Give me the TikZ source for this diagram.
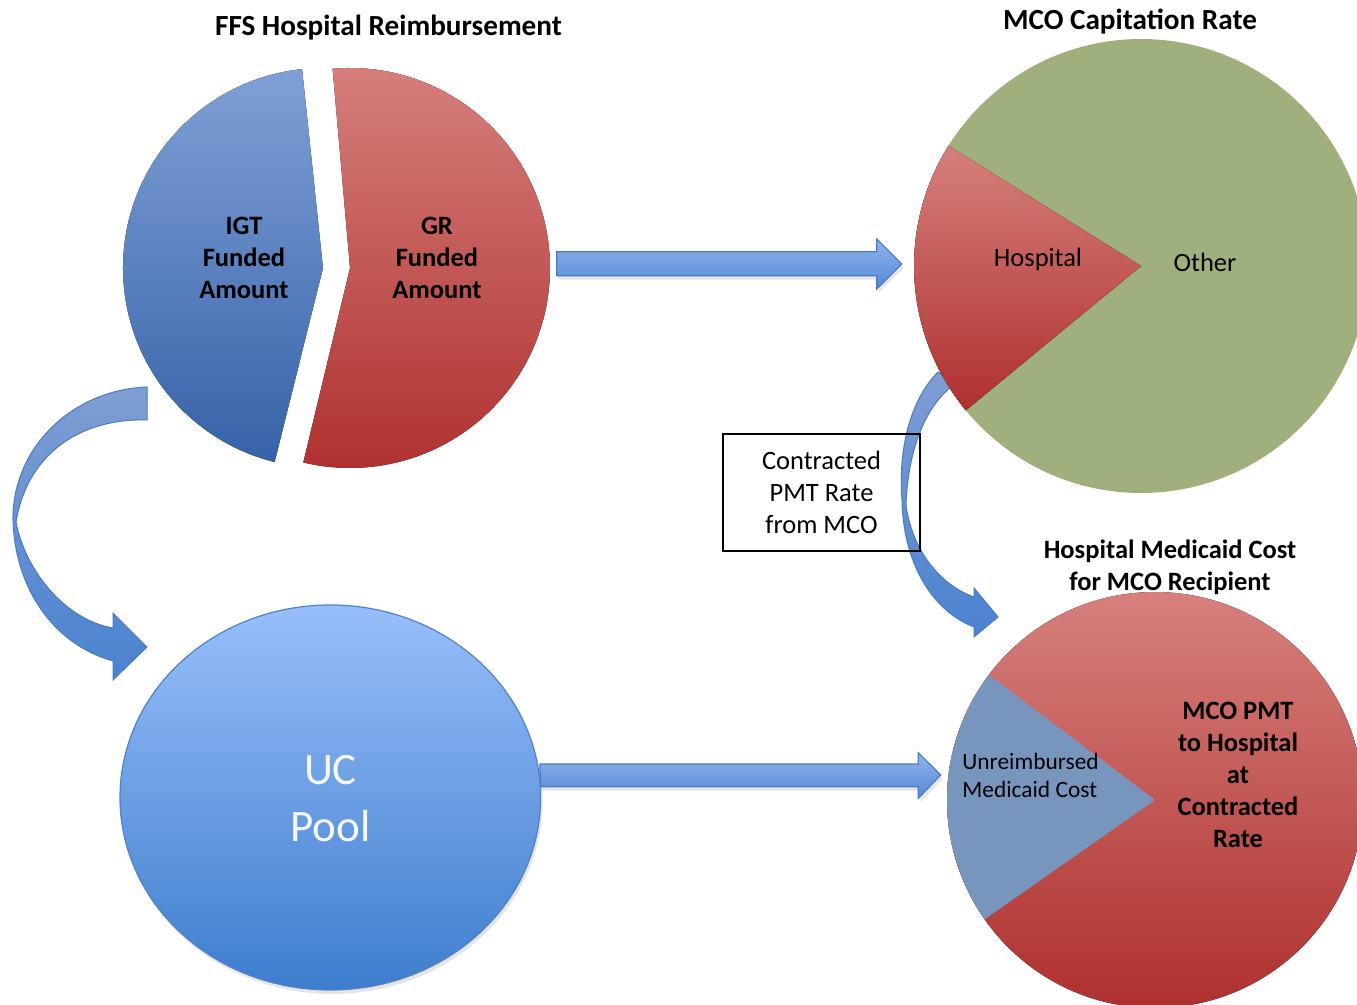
\documentclass[tikz,border=0pt]{standalone}
\usepackage{fontspec}
\setmainfont{Carlito}
\usetikzlibrary{calc}
\definecolor{bluetop}{HTML}{7FA0D6}
\definecolor{bluebot}{HTML}{3662A8}
\definecolor{redtop}{HTML}{D6807D}
\definecolor{redbot}{HTML}{AE302E}
\definecolor{greenpie}{HTML}{A0B07D}
\definecolor{steel}{HTML}{7896BD}
\definecolor{uctop}{HTML}{97BFFA}
\definecolor{ucbot}{HTML}{3E7DCD}
\definecolor{uclinec}{HTML}{4F82C6}
\definecolor{arrtop}{HTML}{8FB4EC}
\definecolor{arrbot}{HTML}{5589D6}
\definecolor{arrline}{HTML}{4A7BC4}
\definecolor{cvtop}{HTML}{7F9ED2}
\definecolor{cvmid}{HTML}{6C9FE6}
\definecolor{cvbot}{HTML}{4A82D0}
\definecolor{uctext}{HTML}{F4F7FC}
\begin{document}
\begin{tikzpicture}[x=0.5pt,y=-0.5pt,
  lbl/.style={font=\fontsize{13.25}{16}\selectfont, align=center, anchor=base, inner sep=0pt},
  lblb/.style={font=\fontsize{13.25}{16}\selectfont\bfseries, align=center, anchor=base, inner sep=0pt},
  ttl/.style={font=\fontsize{14.6}{17}\selectfont\bfseries, anchor=base, inner sep=0pt},
  blockarrow/.style={draw=arrline, line width=0.6pt, top color=arrtop, bottom color=arrbot},
  curvearrow/.style={draw=arrline, line width=0.5pt, top color=cvtop, middle color=cvmid, bottom color=cvbot},
  shadowc/.style={fill=black, opacity=0.10},
]
\useasboundingbox (0,0) rectangle (1357,1005);
\clip (0,0) rectangle (1357,1005);

% centres
\coordinate (ffs) at (336,268);
\coordinate (mco) at (1141,266);
\coordinate (hmc) at (1155,800);
\coordinate (ucc) at (330.3,797.5);
\coordinate (ucs) at (332.3,801.5);

% ---------- left curved arrow ----------
\path[curvearrow] (147,387) -- (147,420)
  .. controls (85,418) and (28,450) .. (16,522)
  .. controls (25,570) and (65,620) .. (113,628)
  -- (113,613) -- (147,647) -- (113,680) -- (113,661)
  .. controls (55,645) and (15,590) .. (13,520)
  .. controls (12,450) and (70,390) .. (147,387) -- cycle;

% ---------- right curved arrow ----------
\path[curvearrow] (938,372)
  .. controls (910,400) and (898,450) .. (902,500)
  .. controls (903,560) and (930,610) .. (974,627)
  -- (974,637) -- (998,617) -- (974,588) -- (974,597)
  .. controls (940,585) and (912,550) .. (906,505)
  .. controls (908,450) and (925,405) .. (956,383) -- cycle;

% ---------- box ----------
\node[draw=black, line width=0.8pt, minimum width=98.5pt, minimum height=58.5pt,
      inner sep=0pt, align=center, font=\fontsize{13.25}{16}\selectfont]
  (box) at (821.5,492.5) {Contracted\\PMT Rate\\from MCO};

% ---------- straight arrows ----------
\fill[shadowc] (558.7,255.7) -- (878.7,255.7) -- (878.7,243) -- (903.7,268)
  -- (878.7,293) -- (878.7,279.7) -- (558.7,279.7) -- cycle;
\path[blockarrow] (556.7,251.7) -- (876.7,251.7) -- (876.7,239) -- (901.7,264)
  -- (876.7,289) -- (876.7,275.7) -- (556.7,275.7) -- cycle;
\fill[shadowc] (542,768) -- (920.3,768) -- (920.3,756.7) -- (942.7,779)
  -- (920.3,802.3) -- (920.3,790.7) -- (542,790.7) -- cycle;
\path[blockarrow] (540,764) -- (918.3,764) -- (918.3,752.7) -- (940.7,775)
  -- (918.3,798.3) -- (918.3,786.7) -- (540,786.7) -- cycle;

% ---------- FFS pie ----------
\fill[top color=bluetop, bottom color=bluebot]
  (323,268) -- +(-96:200) arc[start angle=-96, end angle=-256, radius=200] -- cycle;
\fill[top color=redtop, bottom color=redbot]
  (350,268) -- +(-95:200) arc[start angle=-95, end angle=103.5, radius=200] -- cycle;

% ---------- MCO pie ----------
\fill[greenpie] (mco) circle[radius=227];
\fill[top color=redtop, bottom color=redbot]
  (mco) -- +(-148:227) arc[start angle=-148, end angle=-219.5, radius=227] -- cycle;

% ---------- Hospital Medicaid cost pie ----------
\fill[top color=redtop, bottom color=redbot] (hmc) circle[radius=208];
\fill[steel]
  (hmc) -- +(-143:208) arc[start angle=-143, end angle=-215, radius=208] -- cycle;

% ---------- UC pool ----------
\fill[shadowc] (ucs) ellipse[x radius=210.3, y radius=192.5];
\path[draw=uclinec, line width=0.6pt, top color=uctop, bottom color=ucbot]
  (ucc) ellipse[x radius=210.3, y radius=192.5];

% ---------- texts ----------
\node[ttl] (t1) at (388.5,35.5) {FFS Hospital Reimbursement};
\node[ttl] (t2) at (1130,30) {MCO Capitation Rate};
\node[lblb] (t3) at (1170,591) {Hospital Medicaid Cost\\for MCO Recipient};

\node[lblb] (igt) at (244,298.5) {IGT\\Funded\\Amount};
\node[lblb] (gr) at (437,298.5) {GR\\Funded\\Amount};

\node[lbl] (hosp) at (1038,267) {Hospital};
\node[lbl] (oth) at (1205,272) {Other};

\node[lbl, align=left, anchor=base west, font=\fontsize{11.7}{14}\selectfont]
  (unr) at (962,798) {Unreimbursed\\Medicaid Cost};
\node[lblb] (mcop) at (1238,848) {MCO PMT\\to Hospital\\at\\Contracted\\Rate};

\node[lbl, text=uctext, font=\fontsize{22.5}{28.5}\selectfont] (uc) at (330.5,841.7) {UC\\Pool};
\end{tikzpicture}
\end{document}
